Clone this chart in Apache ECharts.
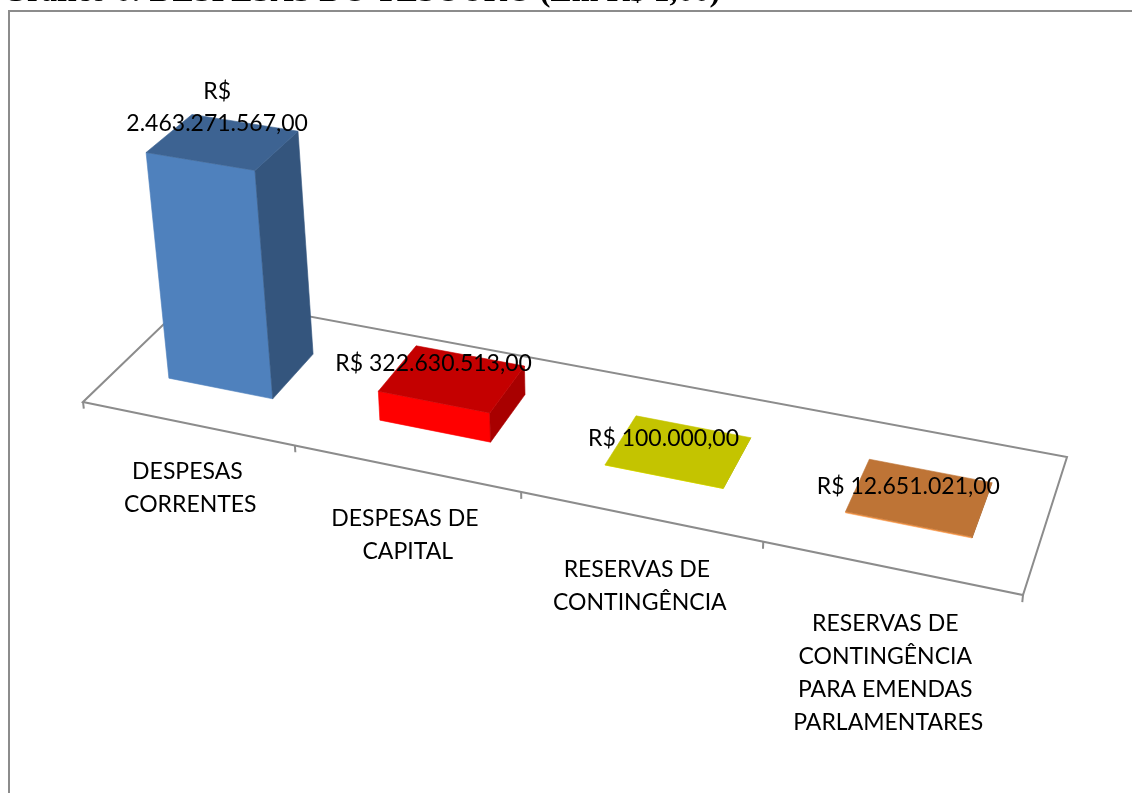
<!DOCTYPE html>
<html>
<head>
<meta charset="utf-8">
<title>Despesas do Tesouro</title>
<script src="https://cdn.jsdelivr.net/npm/echarts@6/dist/echarts.min.js"></script>
<style>
html, body { margin: 0; padding: 0; background: #fff; }
#chart { width: 1132px; height: 793px; }
</style>
</head>
<body>
<div id="chart"></div>
<script>
var titulo = 'Gráfico 6: DESPESAS DO TESOURO (Em R$ 1,00)';
var categorias = ['DESPESAS CORRENTES', 'DESPESAS DE CAPITAL', 'RESERVAS DE CONTINGÊNCIA',
    'RESERVAS DE CONTINGÊNCIA PARA EMENDAS PARLAMENTARES'];
var valores = [2463271567.00, 322630513.00, 100000.00, 12651021.00];
var eixoMax = 3000000000;

var cores = ['#4F81BD', '#FF0000', '#FFFF00', '#F79646'];
var fonte = 'Lato';

// piso em perspectiva: frente-esq, frente-dir, fundo-dir, fundo-esq (tela)
var piso = [[83, 402], [1023, 595], [1067, 457], [194, 295]];
var fugaVertical = [610, 4740];
var nCat = categorias.length;

function homografia(q) {
    var x0 = q[0][0], y0 = q[0][1], x1 = q[1][0], y1 = q[1][1];
    var x2 = q[2][0], y2 = q[2][1], x3 = q[3][0], y3 = q[3][1];
    var sx = x0 - x1 + x2 - x3, sy = y0 - y1 + y2 - y3;
    var dx1 = x1 - x2, dx2 = x3 - x2, dy1 = y1 - y2, dy2 = y3 - y2;
    var den = dx1 * dy2 - dx2 * dy1;
    var g = (sx * dy2 - dx2 * sy) / den;
    var h = (dx1 * sy - sx * dy1) / den;
    return {
        a: x1 - x0 + g * x1, b: x3 - x0 + h * x3, c: x0,
        d: y1 - y0 + g * y1, e: y3 - y0 + h * y3, f: y0,
        g: g, h: h
    };
}
var H = homografia(piso);

function homog(u, w) {
    var s = u / nCat;
    return [H.a * s + H.b * w + H.c, H.d * s + H.e * w + H.f, H.g * s + H.h * w + 1];
}

// escala vertical: altura 1 (eixoMax) = 278px no canto frontal da 1a barra
var kz = (function () {
    var p = homog(0.25, 0.3);
    var yb = p[1] / p[2];
    return p[2] * 278 / ((yb - 278) - fugaVertical[1]);
})();

function proj(u, w, z) {
    var p = homog(u, w);
    var k = kz * z;
    return [(p[0] + k * fugaVertical[0]) / (p[2] + k), (p[1] + k * fugaVertical[1]) / (p[2] + k)];
}

function tom(hex, f) {
    var n = parseInt(hex.slice(1), 16);
    var r = Math.round(((n >> 16) & 255) * f);
    var g = Math.round(((n >> 8) & 255) * f);
    var b = Math.round((n & 255) * f);
    return 'rgb(' + r + ',' + g + ',' + b + ')';
}

function reais(v) {
    var inteiro = Math.floor(v).toString();
    var cent = Math.round((v - Math.floor(v)) * 100);
    inteiro = inteiro.replace(/\B(?=(\d{3})+(?!\d))/g, '.');
    return inteiro + ',' + (cent < 10 ? '0' + cent : cent);
}

function face(pts, cor) {
    return {
        type: 'polygon',
        shape: { points: pts },
        style: { fill: cor, stroke: cor, lineWidth: 0.6 }
    };
}

function desenhaPiso(params, api) {
    var filhos = [];
    filhos.push({
        type: 'polygon',
        shape: { points: [proj(0, 0, 0), proj(nCat, 0, 0), proj(nCat, 1, 0), proj(0, 1, 0)] },
        style: { fill: '#fff', stroke: '#8C8C8C', lineWidth: 2 }
    });
    for (var t = 0; t <= nCat; t++) {
        var a = proj(t, 0, 0), b = proj(t, 0, -0.025);
        filhos.push({
            type: 'line',
            shape: { x1: a[0], y1: a[1], x2: b[0], y2: b[1] },
            style: { stroke: '#8C8C8C', lineWidth: 2 }
        });
    }
    for (var i = 0; i < nCat; i++) {
        var p = proj(i + 0.5, 0, -0.12 - 0.006 * i);
        filhos.push({
            type: 'text',
            style: {
                text: categorias[i], x: p[0], y: p[1],
                width: 215, overflow: 'break',
                align: 'center', verticalAlign: 'top',
                fontFamily: fonte, fontSize: 23, lineHeight: 33, fill: '#000'
            }
        });
    }
    return { type: 'group', children: filhos };
}

function desenhaBarra(params, api) {
    var i = api.value(0), v = api.value(1);
    var topo = api.coord([i, v]);
    var base = api.coord([i, 0]);
    var banda = api.size([1, 0])[0];
    var alturaEixo = api.size([0, eixoMax])[1];
    var uc = (base[0] - params.coordSys.x) / banda;
    var z = (base[1] - topo[1]) / alturaEixo;
    var u0 = uc - 0.25, u1 = uc + 0.25, w0 = 0.3, w1 = 0.7;
    var cor = cores[params.dataIndex];

    var frente = [proj(u0, w0, 0), proj(u1, w0, 0), proj(u1, w0, z), proj(u0, w0, z)];
    var lado = [proj(u1, w0, 0), proj(u1, w1, 0), proj(u1, w1, z), proj(u1, w0, z)];
    var tampa = [proj(u0, w0, z), proj(u1, w0, z), proj(u1, w1, z), proj(u0, w1, z)];

    var txt = 'R$ ' + reais(v);
    var ref = proj(uc, w0, z);
    var lx = ref[0];
    if (txt.length > 17) {
        // rotulo longo quebra em duas linhas, centrado mais sobre a tampa
        txt = 'R$\n' + reais(v);
        lx = proj(uc, 0.45, z)[0];
    }

    return {
        type: 'group',
        children: [
            face(frente, cor),
            face(lado, tom(cor, 0.66)),
            face(tampa, tom(cor, 0.77)),
            {
                type: 'text',
                z2: 10,
                style: {
                    text: txt, x: lx, y: ref[1] - 22,
                    align: 'center', verticalAlign: 'bottom',
                    fontFamily: fonte, fontSize: 23, lineHeight: 32, fill: '#000'
                }
            }
        ]
    };
}

var myChart = echarts.init(document.getElementById('chart'));

var option = {
    backgroundColor: '#fff',
    animation: false,
    grid: { left: 0, top: 0, width: 400, height: 300, show: false },
    xAxis: { type: 'category', data: categorias, show: false },
    yAxis: { type: 'value', min: 0, max: eixoMax, show: false },
    graphic: [
        {
            type: 'rect',
            shape: { x: 9, y: 11, width: 1200, height: 900 },
            style: { fill: 'none', stroke: '#8C8C8C', lineWidth: 2 }
        },
        {
            type: 'text',
            x: 2, y: -7,
            style: {
                text: titulo, fontFamily: 'Liberation Serif', fontWeight: 'bold',
                fontSize: 32, verticalAlign: 'middle', fill: '#000'
            }
        }
    ],
    series: [
        {
            type: 'custom',
            name: 'piso',
            data: [[0, 0]],
            clip: false,
            silent: true,
            z: 1,
            renderItem: desenhaPiso
        },
        {
            type: 'custom',
            name: 'despesas',
            data: valores.map(function (v, i) { return [i, v]; }),
            encode: { x: 0, y: 1 },
            clip: false,
            z: 2,
            renderItem: desenhaBarra
        }
    ]
};

myChart.setOption(option);
</script>
</body>
</html>
